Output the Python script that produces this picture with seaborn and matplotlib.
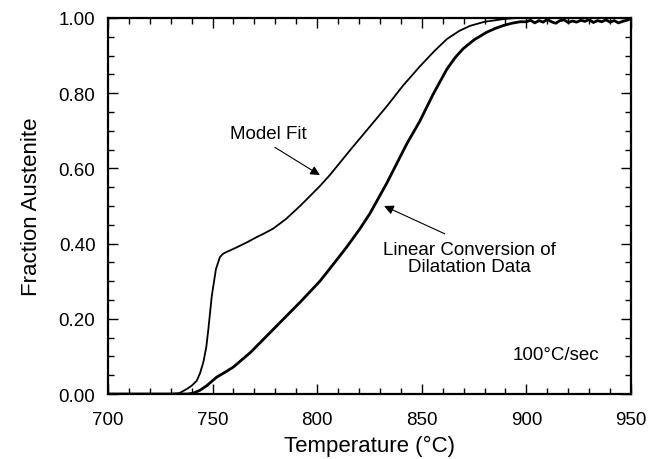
import pandas as pd
import matplotlib
matplotlib.use('Agg')
import matplotlib.pyplot as plt
import seaborn as sns
from matplotlib.ticker import MultipleLocator, FormatStrFormatter

sns.set_style('ticks')
plt.rcParams['font.family'] = ['Liberation Sans', 'DejaVu Sans']
plt.rcParams['font.size'] = 13
for k in ['text.color', 'axes.labelcolor', 'xtick.color', 'ytick.color', 'axes.edgecolor']:
    plt.rcParams[k] = 'black'

# model fit curve
model_temp = [700, 730, 734, 737.6, 740, 742.4, 744, 745.6, 747, 748, 749.6, 751.6, 753.5,
              755, 756.8, 760, 763, 767, 771, 775, 779, 785, 791.8, 801.3, 806, 817,
              825, 833.4, 841, 849.2, 856, 862, 868, 873, 880, 889, 895, 900, 950]
model_frac = [0, 0, 0.002, 0.013, 0.022, 0.035, 0.055, 0.085, 0.125, 0.173, 0.26, 0.332, 0.364,
              0.373, 0.378, 0.386, 0.394, 0.405, 0.417, 0.428, 0.44, 0.465, 0.5, 0.553, 0.582, 0.657,
              0.71, 0.766, 0.82, 0.872, 0.912, 0.944, 0.966, 0.979, 0.99, 0.997, 1.0, 1.0, 1.0]

# linear conversion of dilatation data
data_temp = [700, 738, 740.7, 744, 747.2, 752, 756, 760, 768, 776, 784, 792, 801.3,
             806, 814, 820.5, 825.2, 833.2, 842.8, 849, 855.4, 862, 866, 869.7, 875,
             881, 885, 889, 893, 897,
             900, 902, 904, 906, 908, 910, 912, 914, 916, 918, 920, 922, 924, 926, 928,
             930, 932, 934, 936, 938, 940, 942, 944, 946, 948, 950]
data_frac = [0, 0, 0.002, 0.01, 0.022, 0.045, 0.058, 0.072, 0.11, 0.155, 0.2, 0.245, 0.3,
             0.333, 0.39, 0.44, 0.48, 0.56, 0.665, 0.725, 0.797, 0.864, 0.895, 0.918, 0.942,
             0.962, 0.972, 0.98, 0.986, 0.99,
             0.99, 0.994, 0.987, 0.993, 0.989, 0.996, 0.99, 0.986, 0.993, 0.995, 0.988, 0.992,
             0.989, 0.994, 0.991, 0.996, 0.988, 0.993, 0.99, 0.995, 0.989, 0.993, 0.987, 0.991,
             0.994, 0.998]

model = pd.DataFrame({'Temperature': model_temp, 'Fraction': model_frac})
data = pd.DataFrame({'Temperature': data_temp, 'Fraction': data_frac})

fig = plt.figure(figsize=(6.52, 4.60), dpi=100)
ax = fig.add_axes([0.1656, 0.1413, 0.8022, 0.8174])

sns.lineplot(data=model, x='Temperature', y='Fraction', color='black', lw=1.3,
             sort=False, estimator=None, ax=ax)
sns.lineplot(data=data, x='Temperature', y='Fraction', color='black', lw=2.0,
             sort=False, estimator=None, ax=ax)

ax.set_xlim(700, 950)
ax.set_ylim(0, 1)
ax.xaxis.set_major_locator(MultipleLocator(50))
ax.xaxis.set_minor_locator(MultipleLocator(10))
ax.yaxis.set_major_locator(MultipleLocator(0.2))
ax.yaxis.set_minor_locator(MultipleLocator(0.05))
ax.yaxis.set_major_formatter(FormatStrFormatter('%.2f'))
ax.tick_params(which='both', direction='in', top=True, right=True, width=1)
ax.tick_params(which='major', length=7, labelsize=13.5)
ax.tick_params(axis='y', which='major', pad=9)
ax.tick_params(axis='x', which='major', pad=12)
ax.tick_params(which='minor', length=4)
for s in ax.spines.values():
    s.set_linewidth(1.6)

ax.set_xlabel('Temperature (°C)', fontsize=16, labelpad=5)
ax.set_ylabel('Fraction Austenite', fontsize=16, labelpad=12)

arrow = dict(arrowstyle='-|>', color='black', lw=0.8, mutation_scale=14, shrinkA=0, shrinkB=0)
ax.text(776.5, 0.694, 'Model Fit', ha='center', va='center', fontsize=13.5)
ax.annotate('', xy=(801.3, 0.582), xytext=(779.8, 0.656), arrowprops=arrow)
ax.text(873, 0.362, 'Linear Conversion of\nDilatation Data', ha='center', va='center',
        fontsize=13.5, linespacing=1.0)
ax.annotate('', xy=(832, 0.5), xytext=(861, 0.426), arrowprops=arrow)
ax.text(914, 0.105, '100°C/sec', ha='center', va='center', fontsize=13.5)

fig.savefig('out.png', dpi=100)
